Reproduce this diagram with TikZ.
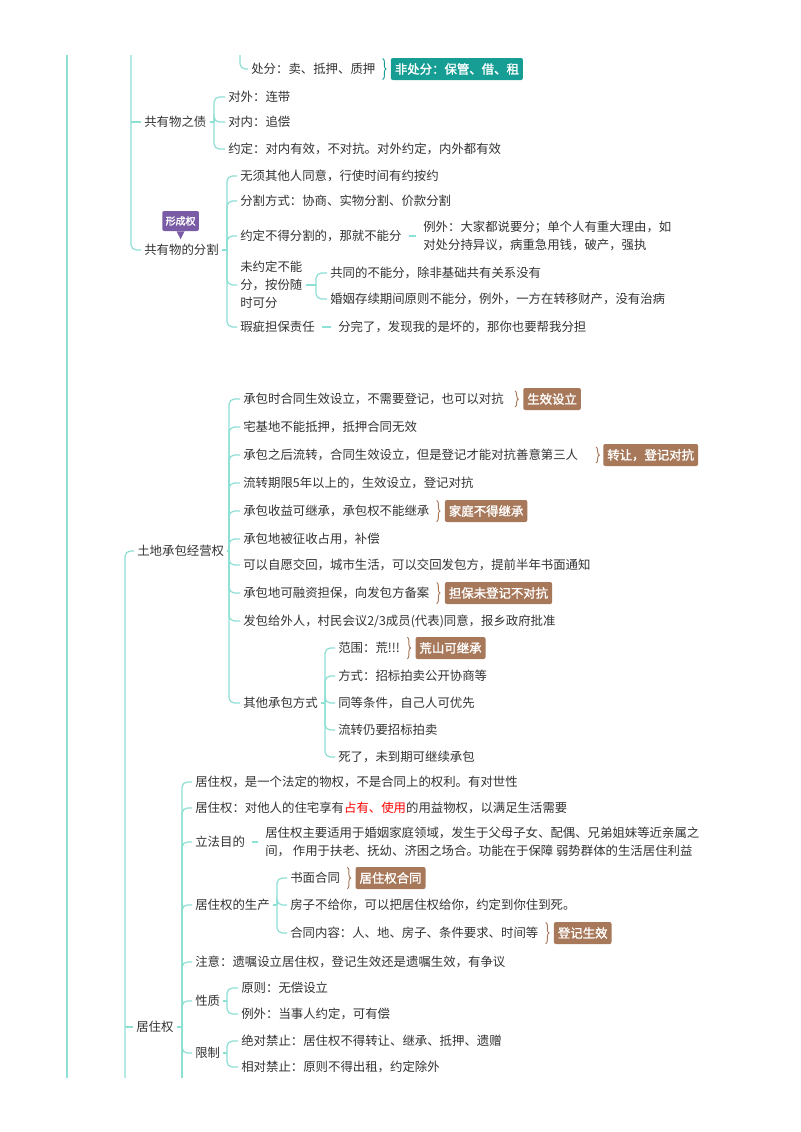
\documentclass[tikz,border=0pt]{standalone}
\usepackage{fontspec}
\setmainfont[AutoFakeBold=1.5]{Noto Sans CJK SC}
\usetikzlibrary{decorations.pathreplacing}
\definecolor{ln}{HTML}{8CE0D4}
\definecolor{txt}{HTML}{333333}
\definecolor{tagb}{HTML}{A8785A}
\definecolor{tagt}{HTML}{169E94}
\definecolor{tagp}{HTML}{7A5CA6}
\begin{document}
\begin{tikzpicture}[x=0.75pt,y=-0.75pt,
  t/.style={font=\fontsize{9.3}{13.5}\selectfont, text=txt, anchor=west, inner sep=1pt, outer sep=1.5pt, align=left},
  tag/.style={font=\fontsize{9.3}{11}\selectfont\bfseries, text=white, fill=tagb, rounded corners=1.5pt, anchor=west, inner xsep=3pt, minimum height=16.5pt},
  c/.style={draw=ln, line width=0.9pt, rounded corners=4pt},
  br/.style={draw=tagb, line width=0.7pt, decorate, decoration={brace,amplitude=2.5pt}}]
\useasboundingbox (0,0) rectangle (800,1132);
\fill[white] (0,0) rectangle (800,1132);
% outer line
\draw[c] (67,55) -- (67,1078);

% ---------- top section
\node[t] (cf) at (248,69) {处分：卖、抵押、质押};
\coordinate (cftop) at (240,55);
\draw[c] (cftop) |- (cf.west);
\draw[br,draw=tagt] ([xshift=3pt,yshift=8pt]cf.east) -- ([xshift=3pt,yshift=-8pt]cf.east);
\node[tag,fill=tagt] (fcf) at ([xshift=9pt]cf.east) {非处分：保管、借、租};

\node[t] (zhai) at (141,122) {共有物之债};
\node[t] (fen) at (141,250) {共有物的分割};
\coordinate (s1top) at (131,55);
\draw[c] (s1top) |- (fen.west);
\draw[c] (131,122) -- (zhai.west);

\node[t] (dw) at (225,97) {对外：连带};
\node[t] (dn) at (225,122) {对内：追偿};
\node[t] (yd) at (225,149) {约定：对内有效，不对抗。对外约定，内外都有效};
\draw[c] (zhai.east) -- (214,122);
\foreach \n in {dw,dn,yd} \draw[c] (214,122) |- (\n.west);

\node[tag,fill=tagp,font=\fontsize{7.5}{9}\selectfont\bfseries,minimum height=15pt,inner xsep=2.5pt] (xcq) at (162,221) {形成权};
\fill[tagp] ([xshift=-3pt]xcq.south) -- ([xshift=3pt]xcq.south) -- ([yshift=-6pt]xcq.south) -- cycle;

\node[t] (f1) at (237,176) {无须其他人同意，行使时间有约按约};
\node[t] (f2) at (237,201) {分割方式：协商、实物分割、价款分割};
\node[t] (f3) at (237,236) {约定不得分割的，那就不能分};
\node[t] (f4) at (237,285) {未约定不能\\分，按份随\\时可分};
\node[t] (f5) at (237,327) {瑕疵担保责任};
\draw[c] (fen.east) -- (227,250);
\foreach \n in {f1,f2,f3,f4,f5} \draw[c] (227,250) |- (\n.west);
\node[t] (lw) at (420,236) {例外：大家都说要分；单个人有重大理由，如\\对处分持异议，病重急用钱，破产，强执};
\draw[c] ([xshift=3pt]f3.east) -- ([xshift=-3pt]lw.west);
\node[t] (g1) at (327,273) {共同的不能分，除非基础共有关系没有};
\node[t] (g2) at (327,299) {婚姻存续期间原则不能分，例外，一方在转移财产，没有治病};
\draw[c] (f4.east) -- (316,285);
\foreach \n in {g1,g2} \draw[c] (316,285) |- (\n.west);
\node[t] (fw) at (335,327) {分完了，发现我的是坏的，那你也要帮我分担};
\draw[c] ([xshift=3pt]f5.east) -- ([xshift=-3pt]fw.west);

% ---------- land section
\node[t] (td) at (134,551) {土地承包经营权};
\node[t] (jz) at (133,1027) {居住权};
\draw[c] (125,1078) |- (td.west);
\draw[c] (125,1027) -- (jz.west);

\node[t] (a1) at (240,399) {承包时合同生效设立，不需要登记，也可以对抗};
\node[t] (a2) at (240,427) {宅基地不能抵押，抵押合同无效};
\node[t] (a3) at (240,455) {承包之后流转，合同生效设立，但是登记才能对抗善意第三人};
\node[t] (a4) at (240,483) {流转期限5年以上的，生效设立，登记对抗};
\node[t] (a5) at (240,511) {承包收益可继承，承包权不能继承};
\node[t] (a6) at (240,539) {承包地被征收占用，补偿};
\node[t] (a7) at (240,565) {可以自愿交回，城市生活，可以交回发包方，提前半年书面通知};
\node[t] (a8) at (240,593) {承包地可融资担保，向发包方备案};
\node[t] (a9) at (240,621) {发包给外人，村民会议2/3成员(代表)同意，报乡政府批准};
\node[t] (a10) at (240,703) {其他承包方式};
\draw[c] (td.east) -- (229,551);
\foreach \n in {a1,a2,a3,a4,a5,a6,a7,a8,a9,a10} \draw[c] (229,551) |- (\n.west);

\draw[br] (515,391) -- (515,407);
\node[tag] (t1) at (523,399) {生效设立};
\draw[br] (596,447) -- (596,463);
\node[tag] (t2) at (603,455) {转让，登记对抗};
\draw[br] ([xshift=3pt,yshift=8pt]a5.east) -- ([xshift=3pt,yshift=-8pt]a5.east);
\node[tag] (t3) at ([xshift=9pt]a5.east) {家庭不得继承};
\draw[br] ([xshift=3pt,yshift=8pt]a8.east) -- ([xshift=3pt,yshift=-8pt]a8.east);
\node[tag] (t4) at ([xshift=9pt]a8.east) {担保未登记不对抗};

\node[t] (b1) at (335,648) {范围：荒!!!};
\node[t] (b2) at (335,676) {方式：招标拍卖公开协商等};
\node[t] (b3) at (335,703) {同等条件，自己人可优先};
\node[t] (b4) at (335,730) {流转仍要招标拍卖};
\node[t] (b5) at (335,757) {死了，未到期可继续承包};
\draw[c] (a10.east) -- (325,703);
\foreach \n in {b1,b2,b3,b4,b5} \draw[c] (325,703) |- (\n.west);
\draw[br] ([xshift=3pt,yshift=8pt]b1.east) -- ([xshift=3pt,yshift=-8pt]b1.east);
\node[tag] (t5) at ([xshift=9pt]b1.east) {荒山可继承};

% ---------- 居住权
\node[t] (c1) at (192,782) {居住权，是一个法定的物权，不是合同上的权利。有对世性};
\node[t] (c2) at (192,808) {居住权：对他人的住宅享有\textcolor{red}{占有、使用}的用益物权，以满足生活需要};
\node[t] (c3) at (192,842) {立法目的};
\node[t] (c4) at (192,905) {居住权的生产};
\node[t] (c5) at (192,962) {注意：遗嘱设立居住权，登记生效还是遗嘱生效，有争议};
\node[t] (c6) at (192,1001) {性质};
\node[t] (c7) at (192,1053) {限制};
\draw[c] (jz.east) -- (182,1027);
\foreach \n in {c1,c2,c3,c4,c5,c6,c7} \draw[c] (182,1027) |- (\n.west);
\draw[c] (182,1027) -- (182,1078);

\node[t] (lf) at (262,842) {居住权主要适用于婚姻家庭领域，发生于父母子女、配偶、兄弟姐妹等近亲属之\\间，\ 作用于扶老、抚幼、济困之场合。功能在于保障\ 弱势群体的生活居住利益};
\draw[c] ([xshift=3pt]c3.east) -- ([xshift=-3pt]lf.west);

\node[t] (d1) at (287,878) {书面合同};
\node[t] (d2) at (287,905) {房子不给你，可以把居住权给你，约定到你住到死。};
\node[t] (d3) at (287,933) {合同内容：人、地、房子、条件要求、时间等};
\draw[c] (c4.east) -- (277,905);
\foreach \n in {d1,d2,d3} \draw[c] (277,905) |- (\n.west);
\draw[br] ([xshift=3pt,yshift=8pt]d1.east) -- ([xshift=3pt,yshift=-8pt]d1.east);
\node[tag] (t6) at ([xshift=9pt]d1.east) {居住权合同};
\draw[br] ([xshift=3pt,yshift=8pt]d3.east) -- ([xshift=3pt,yshift=-8pt]d3.east);
\node[tag] (t7) at ([xshift=9pt]d3.east) {登记生效};

\node[t] (e1) at (238,988) {原则：无偿设立};
\node[t] (e2) at (238,1014) {例外：当事人约定，可有偿};
\draw[c] (c6.east) -- (227,1001);
\foreach \n in {e1,e2} \draw[c] (227,1001) |- (\n.west);
\node[t] (h1) at (238,1041) {绝对禁止：居住权不得转让、继承、抵押、遗赠};
\node[t] (h2) at (238,1067) {相对禁止：原则不得出租，约定除外};
\draw[c] (c7.east) -- (227,1053);
\foreach \n in {h1,h2} \draw[c] (227,1053) |- (\n.west);
\end{tikzpicture}
\end{document}
